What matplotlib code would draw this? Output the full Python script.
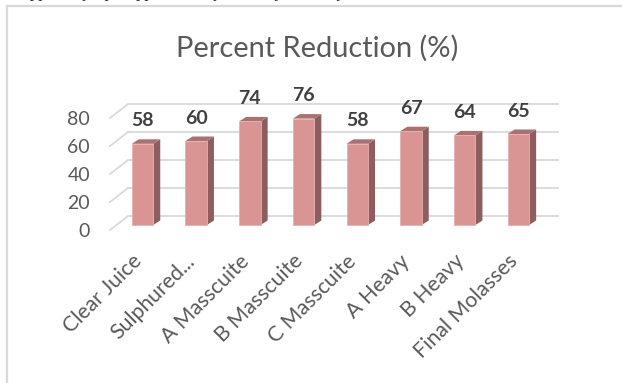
import numpy as np
from matplotlib import pyplot as plt
from matplotlib.patches import Polygon
from matplotlib.lines import Line2D

""" Data """
categories = ['Clear Juice', 'Sulphured...', 'A Masscuite', 'B Masscuite',
              'C Masscuite', 'A Heavy', 'B Heavy', 'Final Molasses']
reduction = [58, 60, 74, 76, 58, 67, 64, 65]
grid_values = [0, 20, 40, 60, 80]

""" Layout (pixels of the 622x383 picture) """
W, H = 622, 383
x0_px, step_px = 142.5, 53.7    # first bar centre, spacing between bars
y0_px, ppu = 225.0, 1.4         # bar baseline, pixels per percent

bar_w = 0.40
side_dx = 7 / step_px           # 3d depth of the bars
side_dy = 4.5 / ppu
wall_dy = 9 / ppu               # back wall offset from the bar fronts
wall_left = (128 - x0_px) / step_px
wall_right = (558 - x0_px) / step_px
side_x = (110 - x0_px) / step_px
side_y = (225 - 230) / ppu

front = '#d99594'
side = '#8d5e5d'
top = '#a97170'
grid = '#d9d9d9'
txt = '#595959'

plt.rcParams['font.family'] = ['Lato', 'DejaVu Sans']

fig = plt.figure(figsize=(W / 100, H / 100), dpi=100)
ax = fig.add_axes([0, 0, 1, 1])
ax.set_xlim(-x0_px / step_px, (W - x0_px) / step_px)
ax.set_ylim((y0_px - H) / ppu, y0_px / ppu)
ax.axis('off')

# chart frame (cut by the screenshot on right and bottom)
fig.add_artist(Line2D([7 / W, 1], [1 - 5.5 / H, 1 - 5.5 / H], color=grid, lw=1.6))
fig.add_artist(Line2D([7 / W, 7 / W], [0, 1 - 5.5 / H], color=grid, lw=1.6))

# bits of the document text above the chart, cut by the screenshot
fig.text(15 / W, 1 + 2.5 / H, 'supplied syrup, supplied heavy, A heavy, B heavy and final molasses are',
         family='Liberation Serif', fontsize=12, va='baseline', color='#222222')

""" Walls and gridlines """
for g in grid_values:
    ax.plot([wall_left, wall_right], [g + wall_dy, g + wall_dy], color=grid, lw=1.3, zorder=1)
    ax.plot([side_x, wall_left], [g + side_y, g + wall_dy], color=grid, lw=1.3, zorder=1)
    ax.text(-0.978, g + side_y - 1.0, str(g), ha='right', va='center',
            fontsize=14, color=txt)

""" Bars """
x = np.arange(len(categories))
ax.bar(x, reduction, width=bar_w, color=front, edgecolor='#e6b0af', lw=0.6, zorder=3)
for xi, v in zip(x, reduction):
    r = xi + bar_w / 2
    l = xi - bar_w / 2
    ax.add_patch(Polygon([(r, 0), (r + side_dx, side_dy), (r + side_dx, v + side_dy), (r, v)],
                         closed=True, color=side, lw=0, zorder=2))
    ax.add_patch(Polygon([(l, v), (r, v), (r + side_dx, v + side_dy), (l + side_dx, v + side_dy)],
                         closed=True, color=top, lw=0, zorder=2))
    ax.text(xi, v + 16.4, str(v), ha='center', va='center', fontsize=14,
            fontweight='bold', color='#404040', zorder=4)

""" Category labels """
for xi, name in zip(x, categories):
    ax.text(xi - 0.075, -23.6, name, rotation=45, ha='right', va='center',
            rotation_mode='anchor', fontsize=15.3, color=txt)

""" Title """
fig.text(317 / W, 1 - 57 / H, 'Percent Reduction (%)', ha='center', va='baseline',
         fontsize=20.9, color=txt)

fig.savefig('out.png', dpi=100)
